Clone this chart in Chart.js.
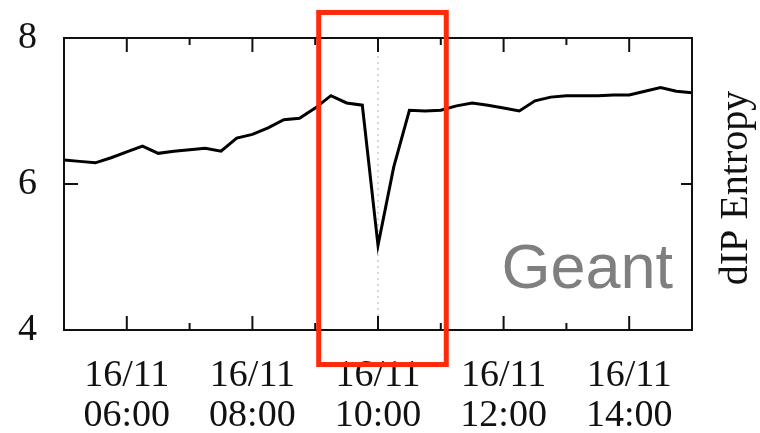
<!DOCTYPE html>
<html>
<head>
<meta charset="utf-8">
<script src="https://cdn.jsdelivr.net/npm/chart.js@4"></script>
<style>
  html, body { margin: 0; padding: 0; background: #fff; }
  #wrap { width: 760px; height: 433px; }
</style>
</head>
<body>
<div id="wrap"><canvas id="entropyChart" width="760" height="433"></canvas></div>
<script>
// sample times (16/11), every 15 minutes
const times = [
  '05:00', '05:15', '05:30', '05:45', '06:00', '06:15', '06:30', '06:45',
  '07:00', '07:15', '07:30', '07:45', '08:00', '08:15', '08:30', '08:45',
  '09:00', '09:15', '09:30', '09:45', '10:00', '10:15', '10:30', '10:45',
  '11:00', '11:15', '11:30', '11:45', '12:00', '12:15', '12:30', '12:45',
  '13:00', '13:15', '13:30', '13:45', '14:00', '14:15', '14:30', '14:45', '15:00'
];
const entropy = [
  6.33, 6.31, 6.29, 6.36, 6.44, 6.52, 6.42, 6.45,
  6.47, 6.49, 6.45, 6.63, 6.68, 6.77, 6.88, 6.90,
  7.04, 7.21, 7.11, 7.08, 5.16, 6.23, 7.01, 7.00,
  7.01, 7.07, 7.11, 7.08, 7.04, 7.00, 7.14, 7.19,
  7.21, 7.21, 7.21, 7.22, 7.22, 7.27, 7.32, 7.27, 7.25
];
const dateLabel = '16/11';
const labelHours = [6, 8, 10, 12, 14];
const minorHours = [7, 9, 11, 13];
const yTicks = [4, 6, 8];
const axisTitle = 'dIP Entropy';
const networkName = 'Geant';
const highlight = { from: 9.056, to: 11.087, low: 3.527, high: 8.35 };
const markerHour = 10;

const toHours = (t) => {
  const [h, m] = t.split(':').map(Number);
  return h + m / 60;
};
const pad2 = (n) => String(n).padStart(2, '0');

const serif = "'Liberation Serif', 'DejaVu Serif', serif";

const decorPlugin = {
  id: 'decor',
  beforeDatasetsDraw(chart) {
    const { ctx, chartArea: a, scales: { x } } = chart;
    ctx.save();
    // dotted marker line
    const mx = x.getPixelForValue(markerHour);
    ctx.strokeStyle = '#b0b0b0';
    ctx.lineWidth = 1;
    ctx.setLineDash([2, 4]);
    ctx.beginPath();
    ctx.moveTo(mx, a.top);
    ctx.lineTo(mx, a.bottom);
    ctx.stroke();
    ctx.restore();
  },
  afterDatasetsDraw(chart) {
    const { ctx, chartArea: a, scales: { x, y } } = chart;
    ctx.save();
    // frame
    ctx.strokeStyle = '#111';
    ctx.lineWidth = 2;
    ctx.strokeRect(a.left, a.top, a.right - a.left, a.bottom - a.top);
    // inward ticks
    ctx.beginPath();
    labelHours.forEach((h) => {
      const px = x.getPixelForValue(h);
      ctx.moveTo(px, a.bottom); ctx.lineTo(px, a.bottom - 14);
      ctx.moveTo(px, a.top); ctx.lineTo(px, a.top + 14);
    });
    minorHours.forEach((h) => {
      const px = x.getPixelForValue(h);
      ctx.moveTo(px, a.bottom); ctx.lineTo(px, a.bottom - 7);
      ctx.moveTo(px, a.top); ctx.lineTo(px, a.top + 7);
    });
    yTicks.forEach((v) => {
      const py = y.getPixelForValue(v);
      ctx.moveTo(a.left, py); ctx.lineTo(a.left + 14, py);
      ctx.moveTo(a.right, py); ctx.lineTo(a.right - 11, py);
    });
    ctx.stroke();

    // network label
    ctx.fillStyle = '#7f7f7f';
    ctx.font = "63px 'Liberation Sans', Arial, sans-serif";
    ctx.textAlign = 'right';
    ctx.textBaseline = 'alphabetic';
    ctx.fillText(networkName, a.right - 19, 288);

    // right axis title
    ctx.fillStyle = '#111';
    ctx.font = '40px ' + serif;
    ctx.textAlign = 'center';
    ctx.textBaseline = 'middle';
    ctx.translate(a.right + 44, 188);
    ctx.rotate(-Math.PI / 2);
    ctx.fillText(axisTitle, 0, 0);
    ctx.restore();

    // highlight box
    ctx.save();
    const x0 = x.getPixelForValue(highlight.from);
    const x1 = x.getPixelForValue(highlight.to);
    const y0 = y.getPixelForValue(highlight.high);
    const y1 = y.getPixelForValue(highlight.low);
    ctx.strokeStyle = '#ff2a0a';
    ctx.lineWidth = 5;
    ctx.strokeRect(x0, y0, x1 - x0, y1 - y0);
    ctx.restore();
  }
};

new Chart(document.getElementById('entropyChart'), {
  type: 'line',
  data: {
    datasets: [{
      data: times.map((t, i) => ({ x: toHours(t), y: entropy[i] })),
      borderColor: '#000',
      borderWidth: 3,
      pointRadius: 0,
      tension: 0,
      fill: false
    }]
  },
  options: {
    responsive: false,
    animation: false,
    layout: { padding: { top: 38, right: 68, left: 0, bottom: 0 } },
    plugins: { legend: { display: false }, tooltip: { enabled: false } },
    scales: {
      x: {
        type: 'linear',
        min: 5,
        max: 15,
        grid: { display: false, drawTicks: false },
        border: { display: false },
        afterFit: (s) => { s.height = 103; s.paddingLeft = 0; s.paddingRight = 0; },
        ticks: {
          stepSize: 1,
          autoSkip: false,
          maxRotation: 0,
          padding: 26,
          color: '#111',
          font: { family: serif, size: 38, lineHeight: 1.05 },
          callback: (v) => labelHours.includes(v) ? [dateLabel, pad2(v) + ':00'] : ''
        }
      },
      y: {
        min: 4,
        max: 8,
        grid: { display: false, drawTicks: false },
        border: { display: false },
        afterFit: (s) => { s.width = 64; s.paddingTop = 0; s.paddingBottom = 0; },
        ticks: {
          stepSize: 2,
          padding: 27,
          color: '#111',
          font: { family: serif, size: 38 }
        }
      }
    }
  },
  plugins: [decorPlugin]
});
</script>
</body>
</html>
